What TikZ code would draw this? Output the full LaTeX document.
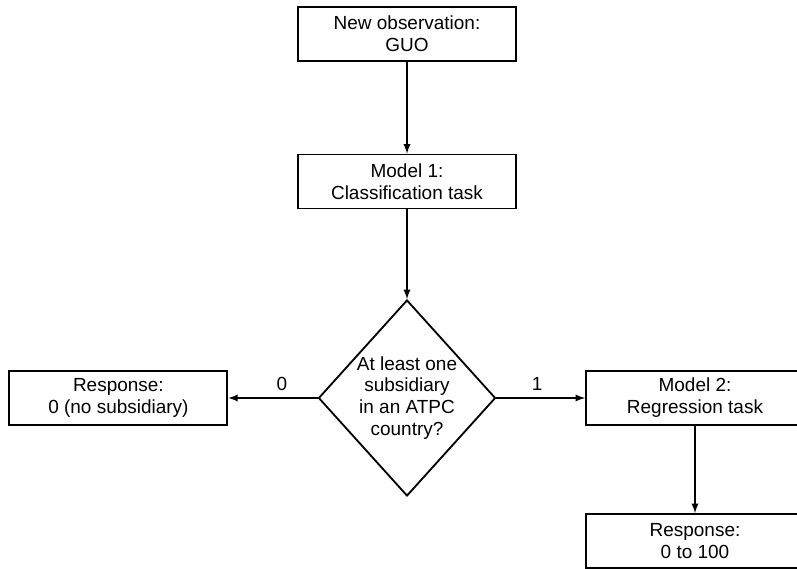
\documentclass[tikz,border=0pt]{standalone}
\usepackage{fontspec}
\setmainfont{Liberation Sans}
\usetikzlibrary{shapes.geometric}
\usetikzlibrary{arrows}

\begin{document}
\begin{tikzpicture}[inner sep = 0.5pt, >=latex,
  font=\fontsize{13.5}{15.6}\selectfont,
  stepbox/.style={draw, line width=1.3pt, minimum width=5.45cm, minimum height=1.35cm, align=center},
  askbox/.style={draw, line width=1.3pt, diamond, aspect=0.9, inner sep=0pt, minimum width=4.425cm, minimum height=4.9cm, align=center},
  every edge/.style={draw, line width=1.3pt}]
  \useasboundingbox (0,0) rectangle (19.925,14.2);

  \node[stepbox] (guo) at (10.175,13.35) {New observation:\\GUO};
  \node[stepbox] (model1) at (10.175,9.6625) {Model 1:\\Classification task};
    \path[->] (guo) edge (model1);

  \node[askbox] (atpc) at (10.175,4.25) {At least one\\subsidiary\\in an ATPC\\country?};
    \path[->] (model1) edge (atpc);

  \node[stepbox] (resp0) at (2.96,4.25) {Response:\\0 (no subsidiary)};
    \path[->] (atpc) edge node[above=4pt, pos=0.4] {0} (resp0);

  \node[stepbox] (model2) at (17.375,4.25) {Model 2:\\Regression task};
    \path[->] (atpc) edge node[above=4pt, pos=0.46] {1} (model2);

  \node[stepbox] (resp100) at (17.375,0.675) {Response:\\0 to 100};
    \path[->] (model2) edge (resp100);

\end{tikzpicture}
\end{document}
